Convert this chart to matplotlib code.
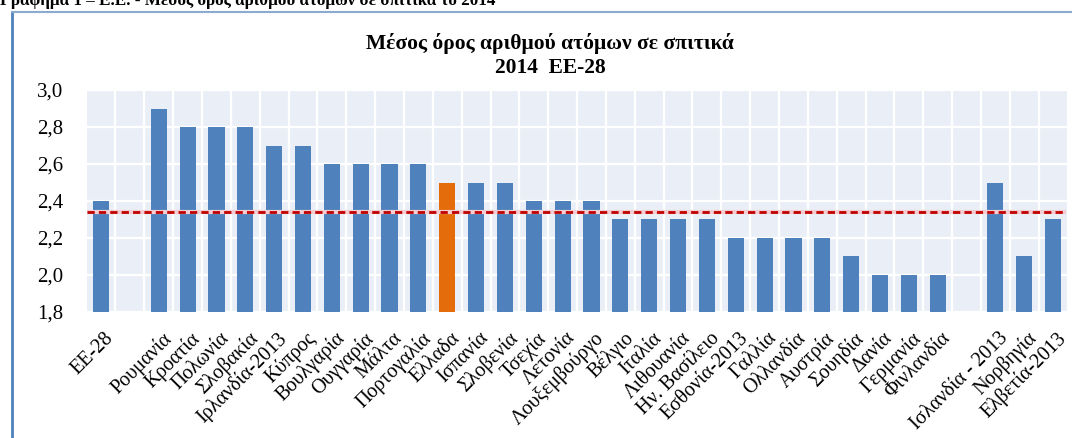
import matplotlib
matplotlib.use("Agg")
import matplotlib.pyplot as plt
import matplotlib.transforms as mtransforms
import numpy as np

countries = ["ΕΕ-28", "", "Ρουμανία", "Κροατία", "Πολωνία", "Σλοβακία", "Ιρλανδία-2013",
             "Κύπρος", "Βουλγαρία", "Ουγγαρία", "Μάλτα", "Πορτογαλία", "Ελλαδα",
             "Ισπανία", "Σλοβενία", "Τσεχία", "Λετονία", "Λουξεμβούργο", "Βέλγιο",
             "Ιταλία", "Λιθουανία", "Ην. Βασίλειο", "Εσθονία-2013", "Γαλλία",
             "Ολλανδία", "Αυστρία", "Σουηδία", "Δανία", "Γερμανία", "Φινλανδία", "",
             "Ισλανδία - 2013", "Νορβηγία", "Ελβετία-2013"]
persons = [2.4, np.nan, 2.9, 2.8, 2.8, 2.8, 2.7,
           2.7, 2.6, 2.6, 2.6, 2.6, 2.5,
           2.5, 2.5, 2.4, 2.4, 2.4, 2.3,
           2.3, 2.3, 2.3, 2.2, 2.2,
           2.2, 2.2, 2.1, 2.0, 2.0, 2.0, np.nan,
           2.5, 2.1, 2.3]
eu_mean = 2.34
highlight = "Ελλαδα"

plt.rcParams['font.family'] = ['Liberation Serif', 'DejaVu Serif']

fig = plt.figure(figsize=(10.72, 4.38), dpi=100)
ax = fig.add_axes([0.0808, 0.2877, 0.915, 0.5068])

x = np.arange(len(countries))
colors = ["#E46C0A" if c == highlight else "#4F81BD" for c in countries]
ax.bar(x, np.nan_to_num(persons, nan=0), width=0.56, color=colors, zorder=3)

# EU-28 mean as a dashed line, with a faint halo
ax.axhline(eu_mean, xmin=0, xmax=0.996, color="#F3CDD1", lw=3.0, zorder=4)
ax.axhline(eu_mean, xmin=0, xmax=0.996, color="#C00000", lw=2.0,
           dashes=(2.6, 1.5), zorder=5)

ax.set_facecolor("#EAEFF7")
ax.set_xlim(-0.5, len(countries) - 0.5)
ax.set_ylim(1.8, 3.0)
ax.set_yticks(np.arange(1.8, 3.01, 0.2))
ax.set_yticklabels([f"{v:.1f}".replace(".", ",") for v in np.arange(1.8, 3.01, 0.2)])
ax.set_xticks(x)
ax.set_xticklabels(countries, rotation=45, ha="right", rotation_mode="anchor")
ax.set_xticks(x[:-1] + 0.5, minor=True)
ax.grid(axis="y", color="white", lw=1.6, zorder=1)
ax.grid(axis="x", which="minor", color="white", lw=1.6, zorder=1)
ax.tick_params(axis="y", length=0, pad=17, labelsize=15)
ax.tick_params(axis="x", which="both", length=0, pad=12, labelsize=14.5)
shift = mtransforms.ScaledTranslation(3 / 100, 0, fig.dpi_scale_trans)
for lab in ax.get_xticklabels():
    lab.set_transform(lab.get_transform() + shift)
for s in ax.spines.values():
    s.set_visible(False)

fig.text(0.513, 1 - 49 / 438, "Μέσος όρος αριθμού ατόμων σε σπιτικά",
         ha="center", va="baseline", fontsize=15.5, fontweight="bold")
fig.text(0.513, 1 - 73 / 438, "2014  EE-28",
         ha="center", va="baseline", fontsize=15.5, fontweight="bold")

# document heading cut off at the top of the crop
fig.text(0.0, 1 - 5 / 438, "Γράφημα 1 – Ε.Ε. - Μέσος όρος αριθμού ατόμων σε σπιτικά το 2014",
         ha="left", va="baseline", fontsize=12.3, fontweight="bold")

# frame of the chart box
fig.add_artist(plt.Line2D([12 / 1072, 12 / 1072], [0, 1 - 12 / 438],
                          transform=fig.transFigure, color="#4F81BD", lw=2))
fig.add_artist(plt.Line2D([12 / 1072, 1], [1 - 12 / 438, 1 - 12 / 438],
                          transform=fig.transFigure, color="#8EA9D0", lw=1.5))

fig.savefig("out.png", dpi=100)
